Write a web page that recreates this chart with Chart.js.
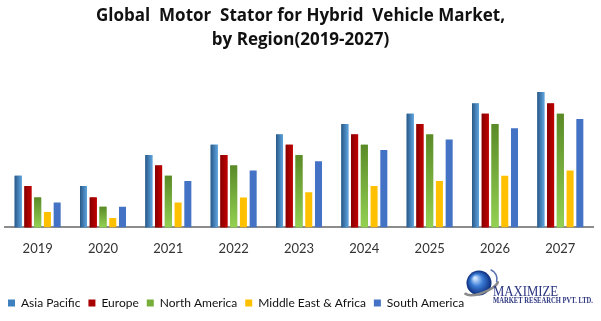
<!DOCTYPE html>
<html>
<head>
<meta charset="utf-8">
<script src="https://cdn.jsdelivr.net/npm/chart.js@4.4.1/dist/chart.umd.min.js"></script>
<style>
  html, body { margin: 0; padding: 0; background: #ffffff; }
  #wrap { width: 601px; height: 321px; position: relative; }
</style>
</head>
<body>
<div id="wrap"><canvas id="c" width="601" height="321"></canvas></div>
<script>
const titleLines = ['Global  Motor  Stator for Hybrid  Vehicle Market,', 'by Region(2019-2027)'];
const years = ['2019', '2020', '2021', '2022', '2023', '2024', '2025', '2026', '2027'];
const seriesNames = ['Asia Pacific', 'Europe', 'North America', 'Middle East & Africa', 'South America'];
const asiaPacific   = [5.0, 4.0, 7.0, 8.0, 9.0, 10.0, 11.0, 12.0, 13.1];
const europe        = [4.0, 2.9, 6.0, 7.0, 8.0, 9.0, 10.0, 11.0, 12.0];
const northAmerica  = [2.9, 2.0, 5.0, 6.0, 7.0, 8.0, 9.0, 10.0, 11.0];
const middleEastAfrica = [1.5, 0.9, 2.4, 2.9, 3.4, 4.0, 4.5, 5.0, 5.5];
const southAmerica  = [2.4, 2.0, 4.5, 5.5, 6.4, 7.5, 8.5, 9.6, 10.5];
const logoTexts = ['MAXIMIZE', 'MARKET RESEARCH PVT. LTD.'];

const baseColors = ['#3F80BE', '#A80000', '#77AE3A', '#FFC000', '#4472C4'];
const gradStops = [
  { dir: 'h', a: '#285886', b: '#5EA4E0' },
  { dir: 'h', a: '#860000', b: '#C20000' },
  { dir: 'v', a: '#5A8A28', b: '#93D152' }
];

const gradientPlugin = {
  id: 'barGradients',
  afterDatasetsDraw(chart) {
    const ctx = chart.ctx;
    gradStops.forEach((g, di) => {
      const meta = chart.getDatasetMeta(di);
      if (meta.hidden) return;
      meta.data.forEach(el => {
        const p = el.getProps(['x', 'y', 'base', 'width'], true);
        const left = p.x - p.width / 2;
        const top = Math.min(p.y, p.base);
        const h = Math.abs(p.base - p.y);
        let grad;
        if (g.dir === 'h') grad = ctx.createLinearGradient(left, 0, left + p.width, 0);
        else grad = ctx.createLinearGradient(0, top, 0, top + h);
        grad.addColorStop(0, g.a);
        grad.addColorStop(1, g.b);
        ctx.save();
        ctx.fillStyle = grad;
        ctx.fillRect(left, top, p.width, h);
        ctx.restore();
      });
    });
  }
};

const decorPlugin = {
  id: 'decor',
  afterDraw(chart) {
    const ctx = chart.ctx;
    const cx = chart.width / 2;
    ctx.save();
    // Title
    ctx.fillStyle = '#111111';
    ctx.textAlign = 'center';
    ctx.textBaseline = 'alphabetic';
    let size = 22;
    ctx.font = 'bold ' + size + 'px "Open Sans"';
    while (ctx.measureText(titleLines[0]).width > 418 && size > 10) {
      size -= 0.5;
      ctx.font = 'bold ' + size + 'px "Open Sans"';
    }
    ctx.fillText(titleLines[0], cx, 21);
    ctx.fillText(titleLines[1], cx, 45);

    // Logo: globe
    const gx = 479, gy = 283, r = 12.5;
    const rg = ctx.createRadialGradient(gx - 4, gy - 5, 1, gx, gy, r);
    rg.addColorStop(0, '#CFE6FF');
    rg.addColorStop(0.45, '#3A7BD5');
    rg.addColorStop(1, '#0B2A7A');
    ctx.fillStyle = rg;
    ctx.beginPath();
    ctx.arc(gx, gy, r, 0, Math.PI * 2);
    ctx.fill();
    // swoosh
    ctx.strokeStyle = '#8A8A8A';
    ctx.lineWidth = 2.5;
    ctx.beginPath();
    ctx.ellipse(gx + 2, gy + 3, 18, 7, -0.35, 0.2, Math.PI * 0.95);
    ctx.stroke();
    ctx.strokeStyle = '#5A6FB0';
    ctx.lineWidth = 1.5;
    ctx.beginPath();
    ctx.arc(gx + 8, gy - 4, 10, -1.2, 0.3);
    ctx.stroke();

    // Logo texts
    ctx.textAlign = 'left';
    ctx.fillStyle = '#2A3580';
    ctx.font = '13px "Liberation Serif"';
    ctx.save();
    ctx.translate(493, 296);
    ctx.scale(0.98, 1.15);
    ctx.fillText(logoTexts[0], 0, 0);
    ctx.restore();
    ctx.font = 'bold 7px "Liberation Serif"';
    ctx.save();
    ctx.translate(493, 303);
    const w = ctx.measureText(logoTexts[1]).width;
    ctx.scale(100 / w, 1.1);
    ctx.fillText(logoTexts[1], 0, 0);
    ctx.restore();
    ctx.restore();
  }
};

const seriesValues = [asiaPacific, europe, northAmerica, middleEastAfrica, southAmerica];

new Chart(document.getElementById('c'), {
  type: 'bar',
  data: {
    labels: years,
    datasets: seriesNames.map((name, i) => ({
      label: name,
      data: seriesValues[i],
      backgroundColor: baseColors[i],
      borderWidth: 0,
      categoryPercentage: 0.746,
      barPercentage: 0.72
    }))
  },
  options: {
    responsive: false,
    animation: false,
    devicePixelRatio: 1,
    layout: { padding: { top: 60, left: 0, right: 8, bottom: 2 } },
    plugins: {
      title: { display: false },
      tooltip: { enabled: false },
      legend: {
        display: true,
        position: 'bottom',
        align: 'start',
        labels: {
          boxWidth: 7,
          boxHeight: 7,
          padding: 8,
          color: '#111111',
          font: { family: 'Lato', size: 12 }
        }
      }
    },
    scales: {
      x: {
        grid: { display: false, drawTicks: false },
        border: { display: true, color: '#8C8C8C', width: 2 },
        ticks: { color: '#333333', padding: 14, font: { family: 'Lato', size: 13 } },
        afterFit(scale) { scale.height += 18; }
      },
      y: {
        display: true,
        min: 0,
        max: 16.2,
        grid: { display: false, drawTicks: false },
        border: { display: false },
        ticks: { display: false },
        afterFit(scale) { scale.width = 5; }
      }
    }
  },
  plugins: [gradientPlugin, decorPlugin]
});
</script>
</body>
</html>
